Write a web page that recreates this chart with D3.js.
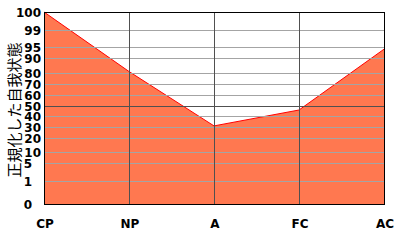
<!DOCTYPE html>
<html>
<head>
<meta charset="utf-8">
<script src="https://cdnjs.cloudflare.com/ajax/libs/d3/7.8.5/d3.min.js"></script>
<style>
	body { margin: 0; background: #fff; }
	svg { display: block; }
</style>
</head>
<body>
<div id="chart"></div>
<script>
// chart data
var categories = ["CP", "NP", "A", "FC", "AC"];
var values = [100, 81, 31, 46, 94];
var yTicks = [0, 1, 5, 10, 20, 30, 40, 50, 60, 70, 80, 90, 95, 99, 100];
var yTitle = "正規化した自我状態";

var chart = {
	create : function(config) {
		//
		// Configuration set up
		//
		var _select = config.select || "#chart",
			_width = config.width || 400,
			_height = config.height || 240,
			_left = 44, _right = 384, _top = 12, _bottom = 204;

		// row of each tick line, measured down from the top of the plot
		var tickRows = [192, 169, 151, 140, 126, 115, 104, 94, 83, 72, 61, 46, 35, 18, 0];

		var svg = d3.select( _select ).append( "svg" )
			.attr( "width", _width )
			.attr( "height", _height );

		var x = d3.scalePoint()
			.domain( categories )
			.range( [_left, _right] );

		var y = d3.scaleLinear()
			.domain( yTicks )
			.range( tickRows.map(function(r) { return _top + r; }) );

		var pts = categories.map(function(c, i) { return { cat: c, v: values[i] }; });

		//
		// Filled area
		//
		var area = d3.area()
			.x( function(d) { return x(d.cat); } )
			.y0( _bottom )
			.y1( function(d) { return y(d.v); } );

		svg.append( "path" )
			.datum( pts )
			.attr( "d", area )
			.attr( "fill", "#ff7850" );

		svg.append( "path" )
			.datum( pts )
			.attr( "d", d3.line()
				.x( function(d) { return x(d.cat); } )
				.y( function(d) { return y(d.v); } ) )
			.attr( "fill", "none" )
			.attr( "stroke", "#ff0000" )
			.attr( "stroke-width", 1 );

		//
		// Grid lines
		//
		svg.append( "g" ).selectAll( "line" )
			.data( yTicks.filter(function(t) { return t > 0 && t < 100; }) )
			.enter()
			.append( "line" )
			.attr( "x1", _left )
			.attr( "x2", _right )
			.attr( "y1", function(d) { return y(d) + 0.5; } )
			.attr( "y2", function(d) { return y(d) + 0.5; } )
			.attr( "stroke", function(d) { return d == 50 ? "#505050" : "#a4a4a4"; } );

		svg.append( "g" ).selectAll( "line" )
			.data( categories.slice(1, -1) )
			.enter()
			.append( "line" )
			.attr( "x1", function(d) { return x(d) + 0.5; } )
			.attr( "x2", function(d) { return x(d) + 0.5; } )
			.attr( "y1", _top )
			.attr( "y2", _bottom )
			.attr( "stroke", "#505050" );

		svg.append( "rect" )
			.attr( "x", _left + 0.5 )
			.attr( "y", _top + 0.5 )
			.attr( "width", _right - _left )
			.attr( "height", _bottom - _top )
			.attr( "fill", "none" )
			.attr( "stroke", "#000" );

		//
		// Labels
		//
		svg.append( "g" ).selectAll( "text" )
			.data( yTicks )
			.enter()
			.append( "text" )
			.attr( "x", function(d) { return d < 10 ? 32 : 41; } )
			.attr( "y", function(d) { return y(d) + 1; } )
			.attr( "dy", "0.36em" )
			.attr( "text-anchor", "end" )
			.style( "font", "bold 12px 'DejaVu Sans'" )
			.text( function(d) { return d; } );

		svg.append( "g" ).selectAll( "text" )
			.data( categories )
			.enter()
			.append( "text" )
			.attr( "x", function(d) { return x(d) + 1; } )
			.attr( "y", 228 )
			.attr( "text-anchor", "middle" )
			.style( "font", "bold 12px 'DejaVu Sans'" )
			.text( function(d) { return d; } );

		svg.append( "text" )
			.attr( "transform", "translate(13,110) rotate(-90)" )
			.attr( "text-anchor", "middle" )
			.attr( "dominant-baseline", "central" )
			.style( "font", "15px 'Noto Sans CJK JP'" )
			.text( yTitle );
	}
};

chart.create({ select: "#chart", width: 400, height: 240 });
</script>
</body>
</html>
